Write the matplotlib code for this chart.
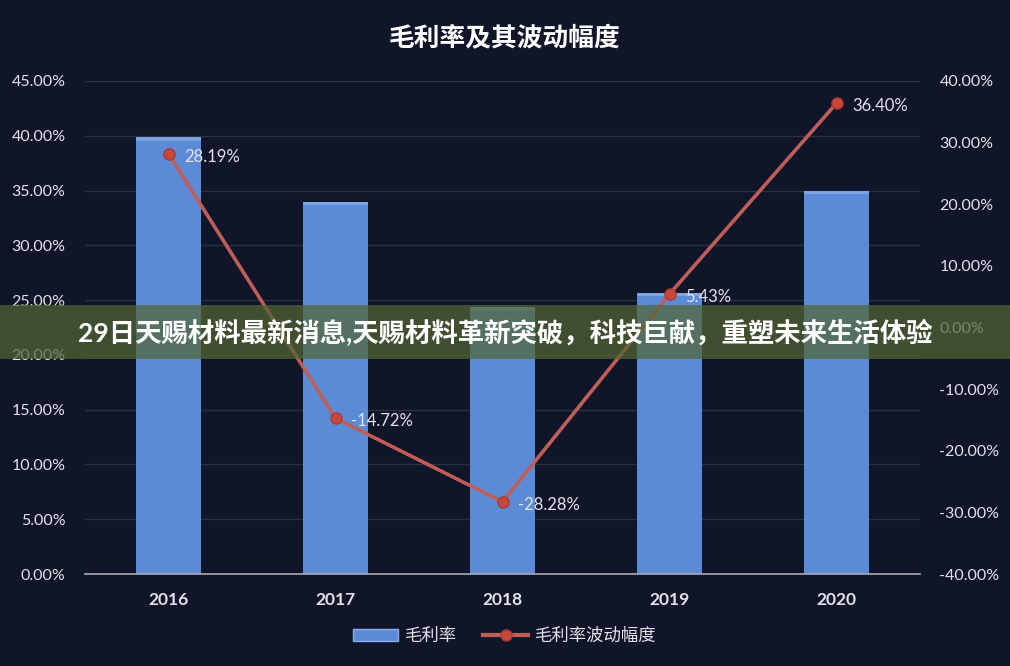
import matplotlib.pyplot as plt
from matplotlib.patches import Rectangle
from matplotlib.ticker import FuncFormatter
from matplotlib.lines import Line2D
from matplotlib.patches import Patch

plt.rcParams['font.family'] = ['Lato', 'Noto Sans CJK SC', 'DejaVu Sans']

years = ['2016', '2017', '2018', '2019', '2020']
margin = [39.85, 33.95, 24.4, 25.65, 35.0]       # 毛利率 (%)
swing = [28.19, -14.72, -28.28, 5.43, 36.40]     # 毛利率波动幅度 (%)
title = '毛利率及其波动幅度'
banner = '29日天赐材料最新消息,天赐材料革新突破，科技巨献，重塑未来生活体验'

bg = '#11152a'
bar_c = '#5b8bd6'
line_c = '#bf5e58'
txt_c = '#e2e3e8'

fig = plt.figure(figsize=(10.1, 6.66), dpi=100, facecolor=bg)
ax = fig.add_axes([0.0842, 0.1381, 0.8267, 0.7403])
ax.set_facecolor(bg)

x = list(range(len(years)))
ax.bar(x, margin, width=0.39, color=bar_c, zorder=2)
# subtle bevel at top of each bar
ax.bar(x, [0.3] * len(x), bottom=[m - 0.3 for m in margin], width=0.39,
       color='#7ea4e2', zorder=2)
ax.set_xlim(-0.5, 4.5)
ax.set_ylim(0, 45)
ax.set_yticks([i * 5 for i in range(10)])
ax.yaxis.set_major_formatter(FuncFormatter(lambda v, p: f'{v:.2f}%'))
ax.grid(axis='y', color='#2c3142', lw=1, zorder=0)
ax.set_xticks(x)
ax.set_xticklabels(years, fontweight='bold')
for s in ['top', 'left', 'right']:
    ax.spines[s].set_visible(False)
ax.spines['bottom'].set_color('#a8aab2')
ax.spines['bottom'].set_linewidth(1.2)
ax.tick_params(axis='both', length=0, colors=txt_c, labelsize=11.5)
ax.tick_params(axis='x', pad=13, labelsize=12.5)
ax.tick_params(axis='y', pad=14)

ax2 = ax.twinx()
ax2.plot(x, swing, color=line_c, lw=2.6, marker='o', markersize=8,
         markerfacecolor='#c8473a', markeredgecolor='#a83a30', zorder=5)
ax2.set_ylim(-40, 40)
ax2.set_yticks(range(-40, 41, 10))
ax2.yaxis.set_major_formatter(FuncFormatter(lambda v, p: f'{v:.2f}%'))
for s in ax2.spines.values():
    s.set_visible(False)
ax2.tick_params(axis='y', length=0, colors=txt_c, labelsize=11.5, pad=14)
for xi, v in zip(x, swing):
    ax2.annotate(f'{v:.2f}%', (xi, v), xytext=(11, -2), textcoords='offset points',
                 color=txt_c, fontsize=12, va='center', ha='left')

fig.text(0.5, 0.943, title, color='white', fontsize=18.5, fontweight='bold',
         ha='center', va='center')

handles = [Patch(facecolor=bar_c, edgecolor='#86aeea'),
           Line2D([0], [0], color=line_c, lw=3, marker='o', markersize=8,
                  markerfacecolor='#c8473a', markeredgecolor='#a83a30')]
leg = fig.legend(handles, ['毛利率', '毛利率波动幅度'], loc='center',
                 bbox_to_anchor=(0.5, 0.045), ncol=2, frameon=False,
                 fontsize=12.5, labelcolor=txt_c, handlelength=2.6,
                 columnspacing=1.5, handletextpad=0.4)

# overlay banner
fig.patches.append(Rectangle((0, 1 - 359 / 666), 1, 54 / 666,
                             transform=fig.transFigure, facecolor='#516633',
                             alpha=0.72, zorder=10))
fig.text(0.5, 1 - 332 / 666, banner, color='white', fontsize=19,
         fontweight='bold', ha='center', va='center', zorder=11)

fig.savefig('out.png', dpi=100, facecolor=bg)
